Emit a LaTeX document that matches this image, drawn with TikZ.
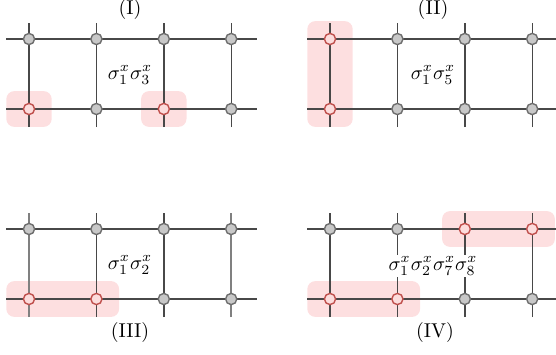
\documentclass[tikz,border=0pt]{standalone}
\usetikzlibrary{backgrounds,fit,positioning}
\definecolor{latgray}{HTML}{484848}
\definecolor{siteedge}{HTML}{6E6E6E}
\definecolor{sitefill}{HTML}{C8C8C8}
\definecolor{flipedge}{HTML}{C0504D}
\definecolor{flipfill}{HTML}{FCDCDC}
\definecolor{boxpink}{HTML}{FDDFE0}
\tikzset{
  lattice/.style={draw=latgray, line width=0.7pt},
  edgeleg/.style={draw=gray, line width=1.2pt},
  site/.style={circle, draw=siteedge, fill=sitefill, line width=0.7pt,
    inner sep=0pt, minimum size=5.6pt},
  flip/.style={site, draw=flipedge, fill=flipfill},
  flipbox/.style={rounded corners=4pt, fill=boxpink, draw=none,
    inner xsep=8.2pt, inner ysep=5.8pt},
  tag/.style={font=\normalsize},
}
\begin{document}
\begin{tikzpicture}[x=0.5pt, y=0.5pt]
  \useasboundingbox (0,0) rectangle (556,354);
  % (I)
  \begin{scope}[shift={(0,245)}]
    \foreach \c in {0,...,3} \draw[lattice] ({29+67.4*\c},-18) -- ({29+67.4*\c},86);
    \foreach \y in {0,70} \draw[lattice] (6,\y) -- (257,\y);
    \foreach \c/\r/\s in {0/0/flip,1/0/site,2/0/flip,3/0/site,
                          0/1/site,1/1/site,2/1/site,3/1/site}
      \node[\s] (a\c\r) at ({29+67.4*\c},{70*\r}) {};
    \node[tag] (titleA) at (130,99) {(I)};
    \node[tag] (opA) at (130,34) {$\sigma^x_1\sigma^x_3$};
    \begin{scope}[on background layer]
      \node[flipbox, fit=(a00)] (boxA1) {};
      \node[flipbox, fit=(a20)] (boxA2) {};
    \end{scope}
  \end{scope}
  % (II)
  \begin{scope}[shift={(301,245)}]
    \foreach \c in {0,...,3} \draw[lattice] ({29+67.4*\c},-18) -- ({29+67.4*\c},86);
    \foreach \y in {0,70} \draw[lattice] (6,\y) -- (260,\y);
    \foreach \c/\r/\s in {0/0/flip,1/0/site,2/0/site,3/0/site,
                          0/1/flip,1/1/site,2/1/site,3/1/site}
      \node[\s] (b\c\r) at ({29+67.4*\c},{70*\r}) {};
    \node[tag] (titleB) at (132,99) {(II)};
    \node[tag] (opB) at (132,34) {$\sigma^x_1\sigma^x_5$};
    \begin{scope}[on background layer]
      \node[flipbox, fit=(b00)(b01)] (boxB) {};
    \end{scope}
  \end{scope}
  % (III)
  \begin{scope}[shift={(0,55)}]
    \foreach \c/\s in {0/edgeleg,1/lattice,2/lattice,3/edgeleg}
      \draw[\s] ({29+67.4*\c},-18) -- ({29+67.4*\c},86);
    \foreach \y in {0,70} \draw[lattice] (6,\y) -- (257,\y);
    \foreach \c/\r/\s in {0/0/flip,1/0/flip,2/0/site,3/0/site,
                          0/1/site,1/1/site,2/1/site,3/1/site}
      \node[\s] (c\c\r) at ({29+67.4*\c},{70*\r}) {};
    \node[tag] (titleC) at (130,-33) {(III)};
    \node[tag] (opC) at (130,34) {$\sigma^x_1\sigma^x_2$};
    \begin{scope}[on background layer]
      \node[flipbox, fit=(c00)(c10)] (boxC) {};
    \end{scope}
  \end{scope}
  % (IV)
  \begin{scope}[shift={(301,55)}]
    \foreach \c in {0,...,3} \draw[lattice] ({29+67.4*\c},-18) -- ({29+67.4*\c},86);
    \foreach \y in {0,70} \draw[lattice] (6,\y) -- (260,\y);
    \foreach \c/\r/\s in {0/0/flip,1/0/flip,2/0/site,3/0/site,
                          0/1/site,1/1/site,2/1/flip,3/1/flip}
      \node[\s] (d\c\r) at ({29+67.4*\c},{70*\r}) {};
    \node[tag] (titleD) at (134,-33) {(IV)};
    \node[tag, fill=white, inner sep=1pt] (opD) at (132,33) {$\sigma^x_1\sigma^x_2\sigma^x_7\sigma^x_8$};
    \begin{scope}[on background layer]
      \node[flipbox, fit=(d00)(d10)] (boxD1) {};
      \node[flipbox, fit=(d21)(d31)] (boxD2) {};
    \end{scope}
  \end{scope}
\end{tikzpicture}
\end{document}
